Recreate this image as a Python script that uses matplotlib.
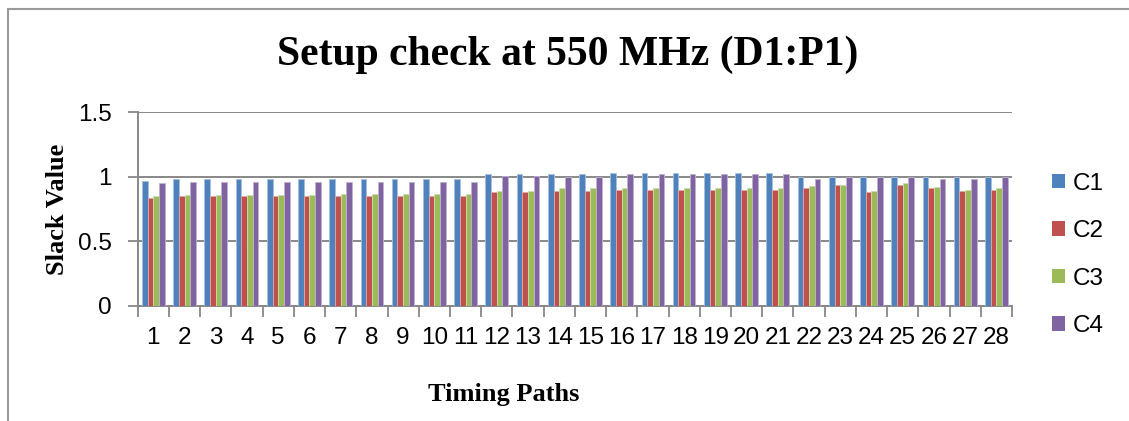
import matplotlib
matplotlib.use("Agg")
import matplotlib.pyplot as plt
from matplotlib.patches import Patch, Rectangle
import numpy as np

# Timing path indices and slack per corner
paths = list(range(1, 29))
series_names = ["C1", "C2", "C3", "C4"]
c1 = [0.97] + [0.98] * 10 + [1.02, 1.02, 1.02, 1.02] + [1.03] * 6 + [1.00] * 7
c2 = [0.84] + [0.85] * 10 + [0.88, 0.88, 0.89, 0.89] + [0.90] * 6 + \
     [0.91, 0.94, 0.88, 0.94, 0.91, 0.89, 0.90]
c3 = [0.85] + [0.86] * 5 + [0.87] * 5 + [0.89, 0.89, 0.91, 0.91] + [0.91] * 6 + \
     [0.93, 0.94, 0.89, 0.95, 0.92, 0.90, 0.91]
c4 = [0.95] + [0.96] * 10 + [1.01, 1.01, 1.00, 1.00] + [1.02] * 6 + \
     [0.98, 1.00, 1.00, 1.00, 0.98, 0.98, 1.00]
y_ticks = [0, 0.5, 1, 1.5]
y_tick_labels = ["0", "0.5", "1", "1.5"]

colors = ["#4F81BD", "#C0504D", "#9BBB59", "#8064A2"]
edges = ["#A7C0DE", "#E0A8A6", "#CDDDAC", "#C0B2D1"]

W, H = 1129, 421
fig = plt.figure(figsize=(W / 100, H / 100), dpi=100)
fig.patch.set_facecolor("white")

# chart-area border (runs off the right and bottom edges)
fig.patches.append(Rectangle((7.5 / W, -0.1), 1.2, 1 - 9.5 / H + 0.1,
                             transform=fig.transFigure, fill=False,
                             edgecolor="#9a9a9a", linewidth=1.5))

ax = fig.add_axes([137.7 / W, 1 - 306 / H, (1012 - 137.7) / W, (306 - 112.3) / H])

sans = "Liberation Sans"
serif = "Liberation Serif"
grid_c = "#888888"
tick_fs = 17.5

n = len(paths)
bw = 1 / 5.5
centers = np.arange(n) + 0.5
for j, (vals, col, ec) in enumerate(zip([c1, c2, c3, c4], colors, edges)):
    ax.bar(centers + (j - 1.5) * bw, vals, width=bw, color=col,
           edgecolor=ec, linewidth=0.6, zorder=3)

ax.set_xlim(0, n)
ax.set_ylim(0, 1.5)
ax.set_yticks(y_ticks)
ax.set_yticklabels(y_tick_labels, fontname=sans, fontsize=tick_fs)
ax.yaxis.grid(True, color=grid_c, linewidth=1.4, zorder=0)
ax.tick_params(axis="y", length=7.5, width=1.3, color=grid_c, pad=11)

# category boundaries as major ticks, labels at minor ticks
ax.set_xticks(np.arange(n + 1))
ax.set_xticklabels([])
ax.set_xticks(centers, minor=True)
ax.set_xticklabels([str(p) for p in paths], minor=True, fontname=sans, fontsize=tick_fs)
ax.tick_params(axis="x", which="major", length=8, width=1.3, color=grid_c)
ax.tick_params(axis="x", which="minor", length=0, pad=15)

for s in ["top", "right"]:
    ax.spines[s].set_visible(False)
for s in ["left", "bottom"]:
    ax.spines[s].set_color(grid_c)
    ax.spines[s].set_linewidth(1.4)

fig.text(568 / W, 1 - 55 / H, "Setup check at 550 MHz (D1:P1)", fontname=serif,
         fontweight="bold", fontsize=30, ha="center", va="center")
fig.text(503.5 / W, 1 - 394 / H, "Timing Paths", fontname=serif,
         fontweight="bold", fontsize=19, ha="center", va="center")
fig.text(58 / W, 1 - 209 / H, "Slack Value", fontname=serif, fontweight="bold",
         fontsize=19, ha="center", va="center", rotation=90)

handles = [Patch(facecolor=c, edgecolor="none") for c in colors]
fig.legend(handles, series_names, loc="center left",
           bbox_to_anchor=(1052 / W, 1 - 255 / H), frameon=False,
           prop={"family": sans, "size": tick_fs}, handlelength=0.55,
           handleheight=0.55, handletextpad=0.3, labelspacing=1.05,
           borderpad=0, borderaxespad=0)

fig.savefig("out.png", dpi=100, facecolor="white")
